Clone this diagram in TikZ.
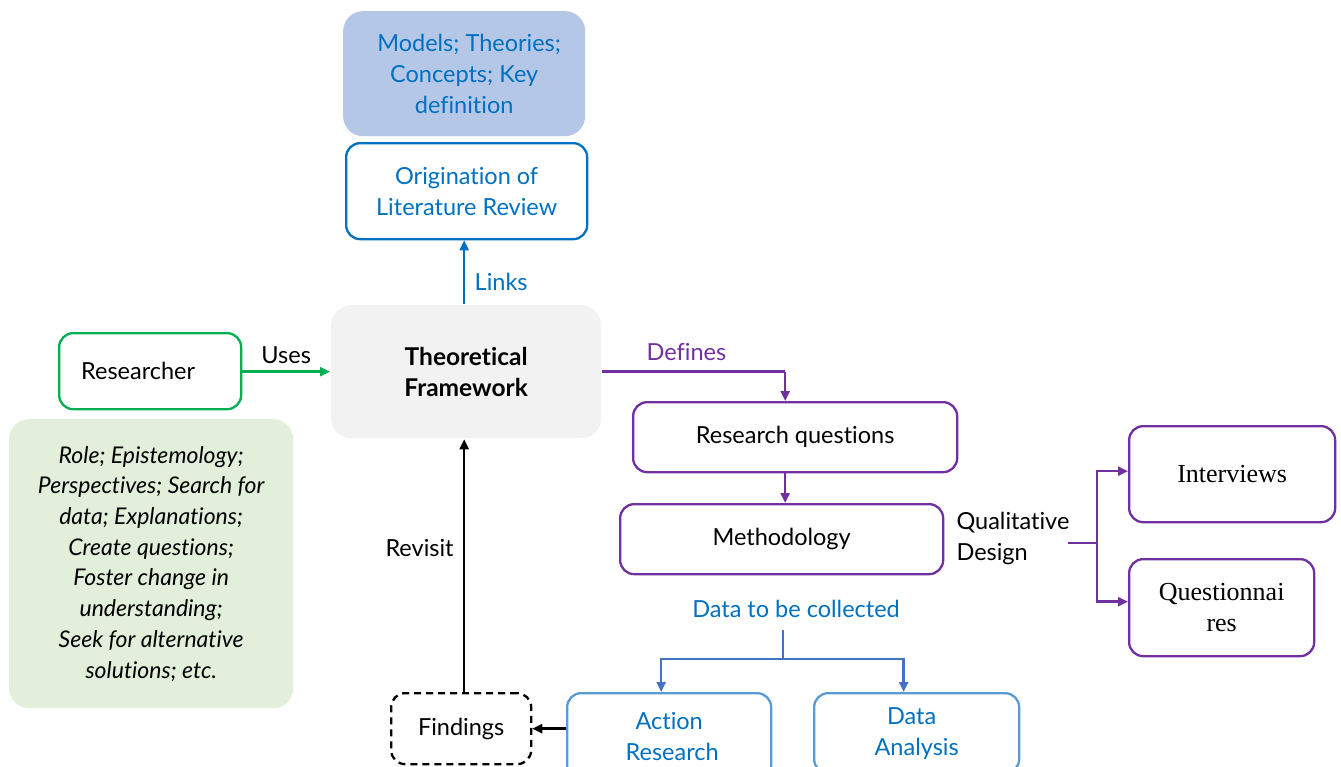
\documentclass[tikz,border=0pt]{standalone}
\usepackage{fontspec}
\setmainfont{Lato}[Ligatures=NoCommon]
\newfontfamily\timesface{Liberation Serif}
\usetikzlibrary{arrows.meta}
\definecolor{tblue}{HTML}{0070C0}
\definecolor{lblue}{HTML}{5B9BD5}
\definecolor{ablue}{HTML}{4472C4}
\definecolor{fillblue}{HTML}{B4C7E7}
\definecolor{tpurple}{HTML}{7030A0}
\definecolor{tgreen}{HTML}{00B050}
\definecolor{fillgreen}{HTML}{E2EFDA}
\definecolor{fillgray}{HTML}{F2F2F2}
\tikzset{
  panel/.style={draw, line width=2.3pt, rounded corners=14pt, align=center,
    inner sep=0pt, anchor=north west},
  arr/.style={-{Triangle[length=10pt,width=9pt]}, line width=2.4pt},
  plain/.style={line width=2.4pt},
  txt/.style={font=\fontsize{23.5}{31}\selectfont},
}
\begin{document}
\begin{tikzpicture}[x=1pt,y=-1pt,txt]
\useasboundingbox (0,0) rectangle (1341,766);
\clip (0,0) rectangle (1341,766);

% upper blue panels
\node[panel, draw=none, fill=fillblue, rounded corners=20pt, text=tblue,
  minimum width=242pt, minimum height=125pt] (mod) at (342,10)
  {\hspace*{10pt}Models; Theories;\\Concepts; Key\\definition};
\node[panel, draw=tblue, text=tblue, minimum width=241pt, minimum height=96pt]
  (orig) at (345,142) {Origination of\\Literature Review};

% central framework
\node[panel, draw=none, fill=fillgray, rounded corners=20pt,
  minimum width=270pt, minimum height=133pt, font=\fontsize{24.5}{31}\selectfont\bfseries]
  (tf) at (330,304) {Theoretical\\Framework};

% researcher side
\node[panel, draw=tgreen, minimum width=182pt, minimum height=76pt] (res) at (58,332)
  {\hspace*{-24pt}Researcher};
\node[panel, draw=none, fill=fillgreen, rounded corners=20pt,
  minimum width=284pt, minimum height=289pt,
  font=\fontsize{23}{30.7}\selectfont\itshape] (role) at (8,418)
  {Role; Epistemology;\\Perspectives; Search for\\data; Explanations;\\Create questions;\\
   Foster change in\\understanding;\\Seek for alternative\\solutions; etc.};

% findings
\node[panel, draw=black, dash pattern=on 7pt off 5pt, minimum width=140pt,
  minimum height=71pt] (find) at (390,692) {Findings};

% research design chain
\node[panel, draw=tpurple, minimum width=324pt, minimum height=70pt] (rq) at (632,401)
  {Research questions};
\node[panel, draw=tpurple, minimum width=323pt, minimum height=70pt] (meth) at (619,503)
  {Methodology};
\node[anchor=west, align=left] (qd) at (953,538) {Qualitative\\Design};

\node[panel, draw=tpurple, minimum width=206pt, minimum height=96pt,
  font=\timesface\fontsize{26}{30}\selectfont] (int) at (1128,425) {Interviews};
\node[panel, draw=tpurple, minimum width=185pt, minimum height=97pt,
  font=\timesface\fontsize{26}{31}\selectfont] (quest) at (1128,558) {Questionnai\\res};

\node[text=tblue] (dtc) at (796,609) {Data to be collected};
\node[panel, draw=lblue, text=tblue, minimum width=204pt, minimum height=86pt] (ar)
  at (566,692) {Action\\\hspace*{6pt}Research};
\node[panel, draw=lblue, text=tblue, minimum width=205pt, minimum height=80pt] (da)
  at (813,692) {\hspace*{-10pt}Data\\Analysis};

% connectors
\draw[arr, tgreen] (res.east |- tf.west) -- (tf.west)
  node[midway, above=3pt, black] {Uses};
\draw[arr, tblue] ([xshift=-2pt]tf.north) -- ([xshift=-2pt]tf.north |- orig.south)
  node[pos=0.34, right=6pt, text=tblue] {Links};
\draw[arr, black] (find.north -| tf.south) ++(-2pt,0) coordinate (rv)
  -- (rv |- tf.south) node[pos=0.57, left=6pt] {Revisit};
\draw[arr, black] (find.east -| ar.west) -- (find.east);

\coordinate (turn) at ([xshift=-10pt]rq.north |- tf.east);
\draw[plain, tpurple] (tf.east) -- (turn)
  node[pos=0.46, above=6pt, text=tpurple] {Defines};
\draw[arr, tpurple] (turn) -- ([xshift=-10pt]rq.north);
\draw[arr, tpurple] ([xshift=-10pt]rq.north |- rq.south) -- ([xshift=-10pt]rq.north |- meth.north);

\coordinate (fork) at (1097,543);
\draw[plain, tpurple] (1068,543) -- (fork);
\draw[arr, tpurple] (fork) |- ([yshift=3pt]int.west);
\draw[arr, tpurple] (fork) |- ([yshift=6pt]quest.west);

\coordinate (dtop) at (783,630);
\coordinate (split) at (783,659);
\draw[plain, ablue] (dtop) -- (split);
\draw[arr, ablue] (split) -| ([xshift=-8pt]ar.north);
\draw[arr, ablue] (split) -| ([xshift=-13pt]da.north);
\end{tikzpicture}
\end{document}
